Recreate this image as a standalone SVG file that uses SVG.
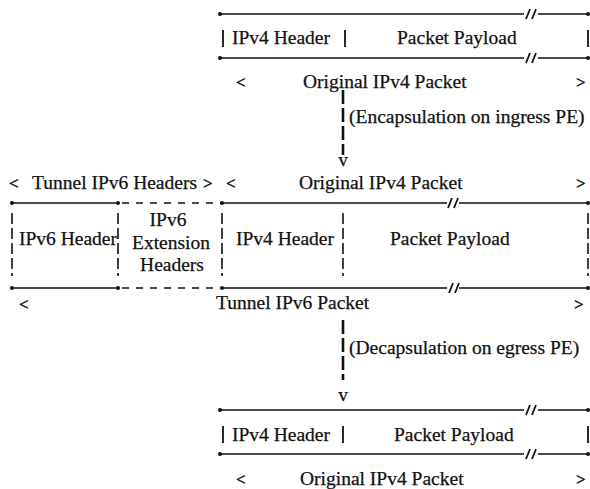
<svg xmlns="http://www.w3.org/2000/svg" width="590" height="489" viewBox="0 0 590 489">
<style>
text{font-family:"Liberation Serif","Times New Roman",serif;font-size:19.5px;fill:#111;stroke:#111;stroke-width:0.25}
.br{font-size:17px;font-weight:bold}
.m{text-anchor:middle}
.h{stroke:#111;stroke-width:1.4;fill:none}
.hd{stroke:#111;stroke-width:1.4;fill:none;stroke-dasharray:7 7}
.sl{stroke:#111;stroke-width:1.8;fill:none}
.bar{stroke:#111;stroke-width:1.8;fill:none}
.vb{stroke:#111;stroke-width:1.6;fill:none;stroke-dasharray:11 4}
.conn{stroke:#111;stroke-width:2.6;fill:none;stroke-dasharray:14 4}
.dot{fill:#111}
</style>
<rect width="590" height="489" fill="#fff"/>

<g id="top-packet">
  <path class="h" d="M220 14H524M538 14H588M220 58H524M538 58H588"/>
  <path class="sl" d="M526 19L530 9M532 19L536 9M526 63L530 53M532 63L536 53"/>
  <circle class="dot" cx="220" cy="14" r="2"/><circle class="dot" cx="588" cy="14" r="2"/>
  <circle class="dot" cx="220" cy="58" r="2"/><circle class="dot" cx="588" cy="58" r="2"/>
  <path class="bar" d="M223 30V47M345 30V47M588 30V47"/>
  <text x="232" y="44">IPv4 Header</text>
  <text x="397" y="44">Packet Payload</text>
  <text class="br" x="236" y="88">&lt;</text>
  <text x="303" y="88">Original IPv4 Packet</text>
  <text class="br" x="576" y="88">&gt;</text>
</g>

<g id="tunnel-packet">
  <path class="h" d="M12 203H118M222 203H447M459 203H588M12 288H118M222 288H447M459 288H588"/>
  <path class="hd" d="M122 203H222M122 288H222"/>
  <path class="sl" d="M448 208L452 198M454 208L458 198M449 293L453 283M455 293L459 283"/>
  <circle class="dot" cx="12" cy="203" r="2"/><circle class="dot" cx="118" cy="203" r="2"/><circle class="dot" cx="222" cy="203" r="2"/><circle class="dot" cx="588" cy="203" r="2"/>
  <circle class="dot" cx="12" cy="288" r="2"/><circle class="dot" cx="118" cy="288" r="2"/><circle class="dot" cx="222" cy="288" r="2"/><circle class="dot" cx="588" cy="288" r="2"/>
  <path class="vb" d="M12 213V276M118 213V276M222 213V276M343 213V276M588 213V276"/>
  <text class="br" x="9" y="189">&lt;</text>
  <text x="32" y="189">Tunnel IPv6 Headers</text>
  <text class="br" x="203" y="189">&gt;</text>
  <text class="br" x="226" y="189">&lt;</text>
  <text x="299" y="189">Original IPv4 Packet</text>
  <text class="br" x="576" y="189">&gt;</text>
  <text x="19" y="245">IPv6 Header</text>
  <text class="m" x="168" y="226">IPv6</text>
  <text class="m" x="171" y="249">Extension</text>
  <text class="m" x="172" y="271">Headers</text>
  <text x="236" y="245">IPv4 Header</text>
  <text x="390" y="245">Packet Payload</text>
  <text class="br" x="19" y="310">&lt;</text>
  <text x="216" y="309">Tunnel IPv6 Packet</text>
  <text class="br" x="574" y="310">&gt;</text>
</g>

<g id="bottom-packet">
  <path class="h" d="M220 410H524M538 410H588M220 454H524M538 454H588"/>
  <path class="sl" d="M526 415L530 405M532 415L536 405M526 459L530 449M532 459L536 449"/>
  <circle class="dot" cx="220" cy="410" r="2"/><circle class="dot" cx="588" cy="410" r="2"/>
  <circle class="dot" cx="220" cy="454" r="2"/><circle class="dot" cx="588" cy="454" r="2"/>
  <path class="bar" d="M223 426V443M343 426V443M588 426V443"/>
  <text x="232" y="441">IPv4 Header</text>
  <text x="394" y="441">Packet Payload</text>
  <text class="br" x="236" y="485">&lt;</text>
  <text x="300" y="485">Original IPv4 Packet</text>
  <text class="br" x="576" y="485">&gt;</text>
</g>

<g id="connectors">
  <g id="encap">
    <path class="conn" d="M343 90V155"/>
    <text class="m" x="343" y="166">v</text>
    <text x="349" y="123">(Encapsulation on ingress PE)</text>
  </g>
  <g id="decap">
    <path class="conn" d="M343 320V380"/>
    <text class="m" x="343" y="401">v</text>
    <text x="349" y="354">(Decapsulation on egress PE)</text>
  </g>
</g>
</svg>
